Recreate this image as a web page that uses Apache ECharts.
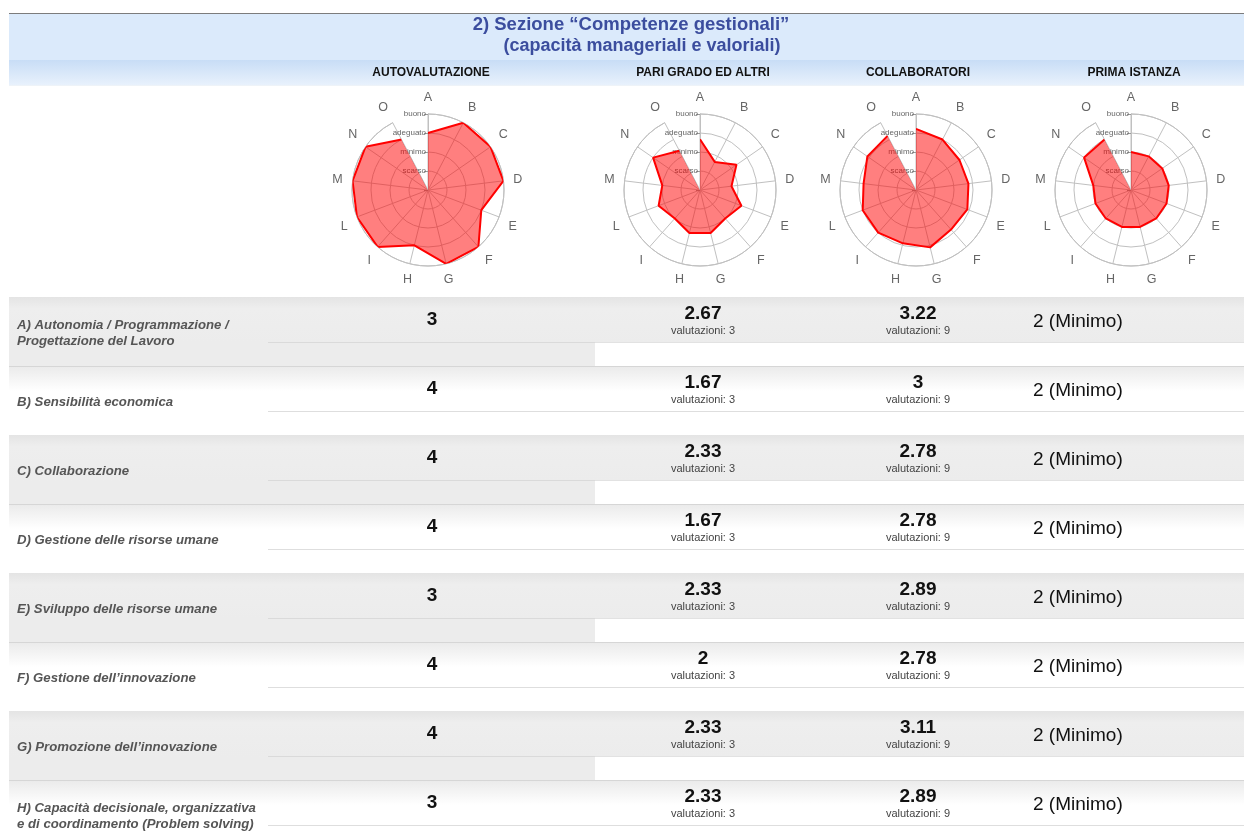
<!DOCTYPE html>
<html>
<head>
<meta charset="utf-8">
<script src="https://cdn.jsdelivr.net/npm/echarts@6/dist/echarts.min.js"></script>
<style>
html,body{margin:0;padding:0;background:#fff;}
#chart{width:1244px;height:832px;}
</style>
</head>
<body>
<div id="chart"></div>
<script>
// ---------- DATA ----------
const titleLines = ['2) Sezione \u201cCompetenze gestionali\u201d', '(capacit\u00e0 manageriali e valoriali)'];
const columnTitles = ['AUTOVALUTAZIONE', 'PARI GRADO ED ALTRI', 'COLLABORATORI', 'PRIMA ISTANZA'];
const indicators = ['A','B','C','D','E','F','G','H','I','L','M','N','O'];
const levelLabels = ['', 'scarso', 'minimo', 'adeguato', 'buono'];
const levelNames = ['', 'Scarso', 'Minimo', 'Adeguato', 'Buono'];
const autoValues   = [3, 4, 4, 4, 3, 4, 4, 3, 4, 4, 4, 4, 3];
const pariValues   = [2.67, 1.67, 2.33, 1.67, 2.33, 2, 2.33, 2.33, 2, 2.33, 2, 3, 2.33];
const collabValues = [3.22, 3, 2.78, 2.78, 2.89, 2.78, 3.11, 2.89, 3, 3, 2.78, 3.11, 3.22];
const primaValues  = [2, 2, 2, 2, 2, 2, 2, 2, 2, 2, 2, 3, 3];
const pariCounts   = [3, 3, 3, 3, 3, 3, 3, 3];
const collabCounts = [9, 9, 9, 9, 9, 9, 9, 9];
const rowLabels = [
  ['A) Autonomia / Programmazione /', 'Progettazione del Lavoro'],
  ['B) Sensibilit\u00e0 economica'],
  ['C) Collaborazione'],
  ['D) Gestione delle risorse umane'],
  ['E) Sviluppo delle risorse umane'],
  ['F) Gestione dell\u2019innovazione'],
  ['G) Promozione dell\u2019innovazione'],
  ['H) Capacit\u00e0 decisionale, organizzativa', 'e di coordinamento (Problem solving)']
];

// ---------- LAYOUT ----------
const FONT = "'Liberation Sans', Arial, sans-serif";
const W = 1244, X0 = 9;
const headerX = [431, 703, 918, 1134];
const polarX = [428, 700, 916, 1131];
const polarY = 190, polarR = 76;
const valueX = [432, 703, 918];
const primaX = 1033;
const rowTop0 = 297, rowH = 69;

const seriesData = [autoValues, pariValues, collabValues, primaValues];

const chart = echarts.init(document.getElementById('chart'), null, {renderer: 'canvas'});

const polar = [], angleAxis = [], radiusAxis = [], series = [];
polarX.forEach((cx, k) => {
  polar.push({center: [cx, polarY], radius: polarR});
  angleAxis.push({
    polarIndex: k, type: 'category', data: indicators, boundaryGap: false,
    startAngle: 90, clockwise: true,
    axisLine: {show: true, lineStyle: {color: '#c0c0c0', width: 1}},
    axisTick: {show: false},
    axisLabel: {color: '#666', fontSize: 12.5, margin: 10, fontFamily: FONT},
    splitLine: {show: true, lineStyle: {color: '#c0c0c0', width: 1}}
  });
  radiusAxis.push({
    polarIndex: k, type: 'value', min: 0, max: 4, interval: 1,
    axisLine: {show: true, lineStyle: {color: '#c0c0c0'}},
    axisTick: {show: true, length: 4, lineStyle: {color: '#999'}},
    axisLabel: {formatter: v => levelLabels[v] || '', fontSize: 8, color: '#666', margin: 2, fontFamily: FONT},
    splitLine: {show: true, lineStyle: {color: '#c0c0c0', width: 1}}
  });
  series.push({
    type: 'line', coordinateSystem: 'polar', polarIndex: k,
    data: seriesData[k], symbol: 'none', silent: true,
    lineStyle: {color: '#ff0000', width: 2},
    areaStyle: {color: '#ff0000', opacity: 0.5},
    z: 3
  });
});

const G = echarts.graphic;
const graphics = [];
function rect(x, y, w, h, fill, z) {
  graphics.push({type: 'rect', shape: {x, y, width: w, height: h}, style: {fill}, z: z || 0, silent: true});
}
function text(t, x, y, font, fill, align, z) {
  graphics.push({type: 'text', x: x, y: y, style: {text: t, font, fill, align: align || 'center', verticalAlign: 'middle'}, z: z || 5, silent: true});
}

// header
rect(X0, 13, W - X0, 1, '#7c7c7c');
rect(X0, 14, W - X0, 46, '#dbeafb');
rect(X0, 60, W - X0, 25, new G.LinearGradient(0, 0, 0, 1, [{offset: 0, color: '#c8ddf6'}, {offset: 1, color: '#e8f1fc'}]));
text(titleLines[0], 631, 25, "bold 18.5px " + FONT, '#3b4d9e');
text(titleLines[1], 642, 46, "bold 18px " + FONT, '#3b4d9e');
columnTitles.forEach((t, k) => text(t, headerX[k], 73, "bold 12px " + FONT, '#111'));
rect(X0, 85, W - X0, 1, '#eef3f8');

// rows
rowLabels.forEach((lab, i) => {
  const top = rowTop0 + rowH * i;
  if (i % 2 === 0) {
    rect(X0, top, W - X0, 46, new G.LinearGradient(0, 0, 0, 1, [{offset: 0, color: '#e4e4e4'}, {offset: 0.25, color: '#eeeeee'}, {offset: 1, color: '#ececec'}]));
    rect(X0, top + 46, 595 - X0, rowH - 46, '#ececec');
    rect(268, top + 45, 595 - 268, 1, '#dadada');
    rect(595, top + 45, W - 595, 1, '#e2e2e2');
  } else {
    rect(X0, top, W - X0, 1, '#d6d6d6');
    rect(X0, top + 1, W - X0, 24, new G.LinearGradient(0, 0, 0, 1, [{offset: 0, color: '#ebebeb'}, {offset: 1, color: '#ffffff'}]));
    rect(268, top + 45, W - 268, 1, '#dedede');
  }
  const lf = "italic bold 13.2px " + FONT;
  if (lab.length === 2) {
    text(lab[0], 17, top + 28, lf, '#555', 'left');
    text(lab[1], 17, top + 44, lf, '#555', 'left');
  } else {
    text(lab[0], 17, top + 36, lf, '#555', 'left');
  }
  text(String(autoValues[i]), valueX[0], top + 23, "bold 19px " + FONT, '#111');
  text(String(pariValues[i]), valueX[1], top + 17, "bold 19px " + FONT, '#111');
  text('valutazioni: ' + pariCounts[i], valueX[1], top + 34, "11px " + FONT, '#444');
  text(String(collabValues[i]), valueX[2], top + 17, "bold 19px " + FONT, '#111');
  text('valutazioni: ' + collabCounts[i], valueX[2], top + 34, "11px " + FONT, '#444');
  text(primaValues[i] + ' (' + levelNames[primaValues[i]] + ')', primaX, top + 25, "19px " + FONT, '#111', 'left');
});

chart.setOption({
  backgroundColor: '#ffffff',
  animation: false,
  polar, angleAxis, radiusAxis, series,
  graphic: graphics
});
</script>
</body>
</html>
